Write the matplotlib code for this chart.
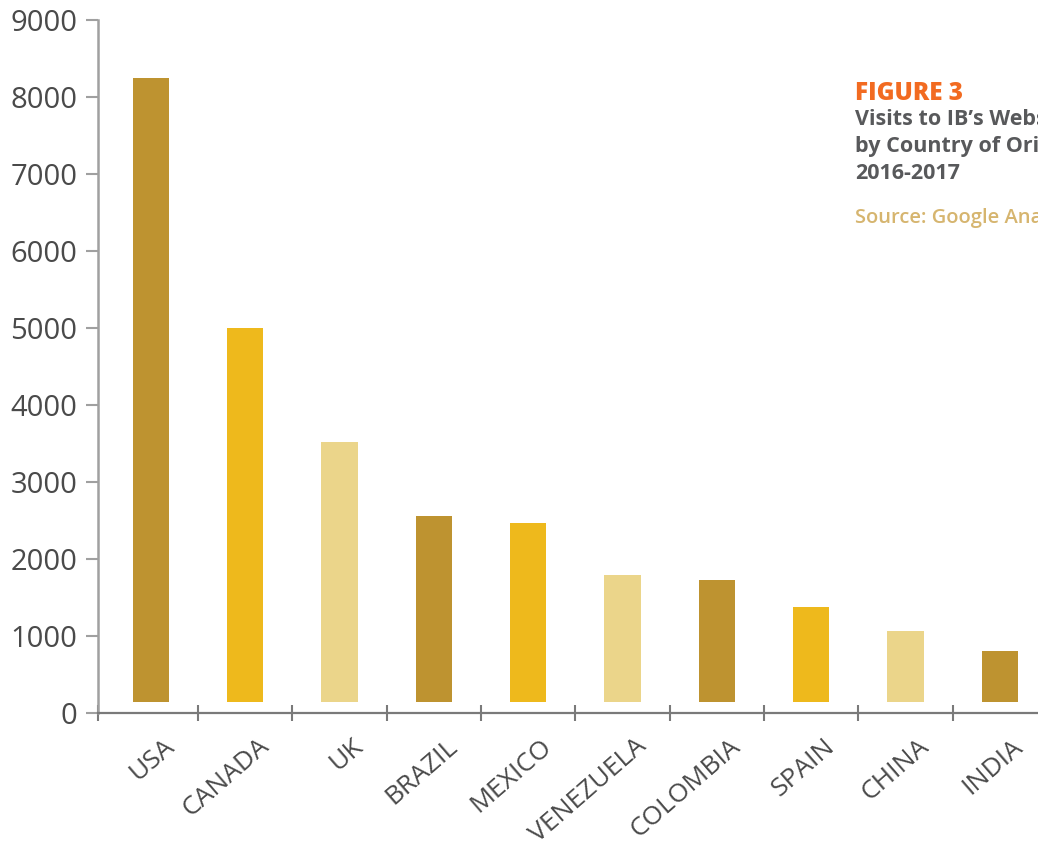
import matplotlib.pyplot as plt
import matplotlib.transforms as mtransforms
import numpy as np

countries = ['USA', 'CANADA', 'UK', 'BRAZIL', 'MEXICO', 'VENEZUELA',
             'COLOMBIA', 'SPAIN', 'CHINA', 'INDIA']
visits = [8250, 5000, 3520, 2560, 2470, 1790, 1730, 1380, 1070, 800]
yticks = [0, 1000, 2000, 3000, 4000, 5000, 6000, 7000, 8000, 9000]

palette = ['#BE9330', '#EEB91C', '#EBD58A']
bar_colors = [palette[i % 3] for i in range(len(countries))]
bar_base = 140  # bars float a little above the axis line

plt.rcParams['font.family'] = ['Open Sans', 'DejaVu Sans']

fig = plt.figure(figsize=(10.38, 8.46), dpi=100)
ax = fig.add_axes([98 / 1038, 1 - 713 / 846, 1 - 98 / 1038, 693 / 846])

x = np.arange(len(countries))
heights = [v - bar_base for v in visits]
ax.bar(x, heights, bottom=bar_base, width=0.385, color=bar_colors, zorder=2)

ax.set_xlim(-0.562, 9.406)
ax.set_ylim(0, 9000)

for side in ['top', 'right']:
    ax.spines[side].set_visible(False)
ax.spines['left'].set_color('#a0a0a0')
ax.spines['left'].set_linewidth(1.8)
ax.spines['bottom'].set_color('#7a7a7a')
ax.spines['bottom'].set_linewidth(1.6)

ax.set_yticks(yticks)
ax.set_yticklabels([str(t) for t in yticks])
ax.tick_params(axis='y', direction='out', length=9, width=1.5, color='#a0a0a0',
               labelsize=21, labelcolor='#4a4a4a', pad=6)

# separators between categories on the x axis
sep = [-0.562] + [i + 0.5 for i in range(len(countries) - 1)]
ax.set_xticks(sep)
ax.set_xticklabels([''] * len(sep))
ax.tick_params(axis='x', which='major', direction='inout', length=11, width=1.5,
               color='#7a7a7a')
ax.set_xticks(x, minor=True)
ax.set_xticklabels(countries, minor=True, rotation=41, ha='right',
                   rotation_mode='anchor')
ax.tick_params(axis='x', which='minor', length=0, pad=15, labelsize=19,
               labelcolor='#4a4a4a')
shift = mtransforms.ScaledTranslation(12 / 100, 0, fig.dpi_scale_trans)
for lbl in ax.get_xticklabels(minor=True):
    lbl.set_transform(lbl.get_transform() + shift)

side_font = ['Open Sans', 'DejaVu Sans']
fig.text(855 / 1038, 1 - 100 / 846, 'FIGURE 3', color='#F26B21', fontsize=17.5,
         fontweight='heavy', family=side_font, va='baseline')
fig.text(855 / 1038, 1 - 125 / 846, 'Visits to IB\u2019s Website', color='#58595B',
         fontsize=15.5, fontweight='bold', family=side_font, va='baseline')
fig.text(855 / 1038, 1 - 152 / 846, 'by Country of Origin,', color='#58595B',
         fontsize=15.5, fontweight='bold', family=side_font, va='baseline')
fig.text(855 / 1038, 1 - 179 / 846, '2016-2017', color='#58595B',
         fontsize=15.5, fontweight='bold', family=side_font, va='baseline')
fig.text(855 / 1038, 1 - 223 / 846, 'Source: Google Analytics', color='#D6B56F',
         fontsize=14.5, fontweight='semibold', family=side_font, va='baseline')

fig.savefig('out.png', dpi=100)
